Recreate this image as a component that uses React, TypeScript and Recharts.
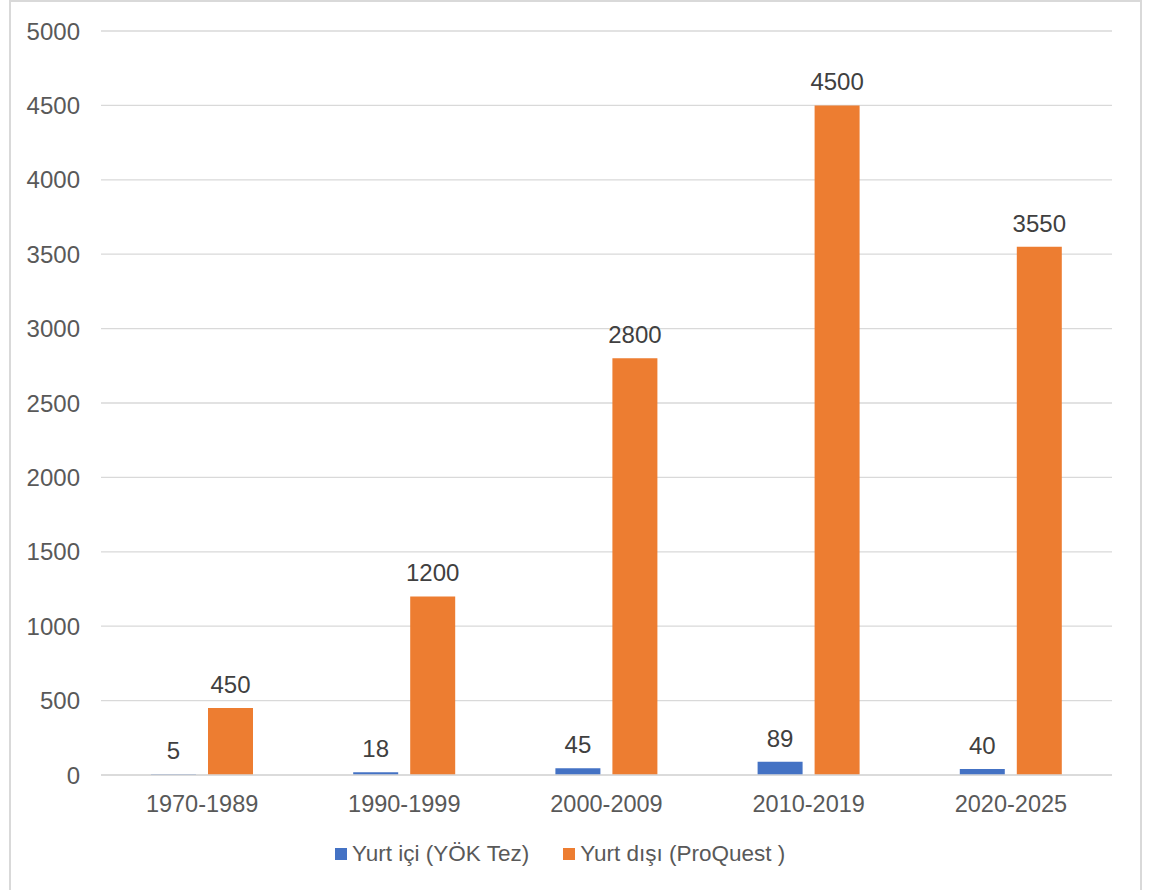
import React from "react";
import { BarChart, Bar, XAxis, YAxis, CartesianGrid, LabelList, Legend } from "recharts";

const categories = ["1970-1989", "1990-1999", "2000-2009", "2010-2019", "2020-2025"];
const domestic = [5, 18, 45, 89, 40];
const abroad = [450, 1200, 2800, 4500, 3550];
const yTicks = [0, 500, 1000, 1500, 2000, 2500, 3000, 3500, 4000, 4500, 5000];
const seriesNames = ["Yurt içi (YÖK Tez)", "Yurt dışı (ProQuest )"];
const seriesColors = ["#4472C4", "#ED7D31"];

const data = categories.map((c, i) => ({ name: c, domestic: domestic[i], abroad: abroad[i] }));

const FONT = "'Liberation Sans', Arial, sans-serif";

const LegendContent = () => (
  <div style={{ display: "flex", alignItems: "center", fontFamily: FONT, fontSize: 22.5, color: "#595959", paddingLeft: 335 }}>
    {seriesNames.map((n, i) => (
      <div key={n} style={{ display: "flex", alignItems: "center", marginRight: 34 }}>
        <span style={{ display: "inline-block", width: 12, height: 12, background: seriesColors[i], marginRight: 5 }} />
        <span>{n}</span>
      </div>
    ))}
  </div>
);

export default function App() {
  return (
    <div style={{ position: "absolute", left: 0, top: 0, width: 1152, height: 890, background: "#fff", overflow: "hidden" }}>
      <div style={{ position: "absolute", left: 9, top: 0, width: 1133, height: 900, border: "2px solid #d9d9d9", boxSizing: "border-box" }} />
      <div style={{ position: "absolute", left: 0, top: 0 }}>
        <BarChart width={1152} height={890} data={data} margin={{ top: 31, right: 40, left: 10, bottom: 76 }} barGap={12} barSize={45}>
          <CartesianGrid vertical={false} stroke="#d9d9d9" strokeWidth={1.3} />
          <XAxis dataKey="name" axisLine={{ stroke: "#d9d9d9", strokeWidth: 1.3 }} tickLine={false} tickMargin={14} height={13}
            tick={{ fill: "#595959", fontSize: 23.5, fontFamily: FONT }} interval={0} />
          <YAxis width={91} domain={[0, 5000]} ticks={yTicks} axisLine={false} tickLine={false} tickMargin={15}
            tick={{ fill: "#595959", fontSize: 24, fontFamily: FONT }} interval={0} />
          <Legend verticalAlign="bottom" wrapperStyle={{ left: 0, top: 841, width: 1152 }} content={<LegendContent />} />
          <Bar dataKey="domestic" name={seriesNames[0]} fill={seriesColors[0]} isAnimationActive={false}>
            <LabelList dataKey="domestic" position="top" offset={15} fill="#404040" fontSize={24} fontFamily={FONT} />
          </Bar>
          <Bar dataKey="abroad" name={seriesNames[1]} fill={seriesColors[1]} isAnimationActive={false}>
            <LabelList dataKey="abroad" position="top" offset={15} fill="#404040" fontSize={24} fontFamily={FONT} />
          </Bar>
        </BarChart>
      </div>
    </div>
  );
}
